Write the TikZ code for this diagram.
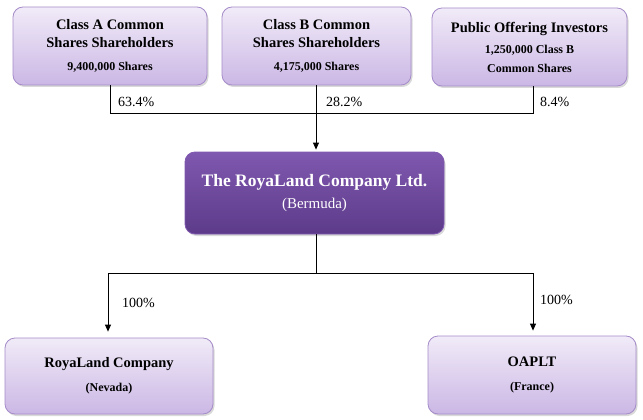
\documentclass[tikz,border=0pt]{standalone}
\usepackage{fontspec}
\setmainfont{Liberation Serif}
\usetikzlibrary{shadows,arrows.meta}
\definecolor{lavtop}{HTML}{F1EBF8}
\definecolor{lavbot}{HTML}{CBB7E5}
\definecolor{lavline}{HTML}{A58CC9}
\definecolor{purtop}{HTML}{7F58AF}
\definecolor{purbot}{HTML}{5D3B8A}
\newcommand{\sub}[1]{{\fontsize{12}{14}\selectfont #1}}
\begin{document}
\begin{tikzpicture}[x=1pt,y=-1pt,
  holder/.style={draw=lavline, line width=0.8pt, rounded corners=10pt,
    top color=lavtop, bottom color=lavbot, align=center, inner sep=0pt,
    font=\fontsize{14.5}{18}\selectfont\bfseries,
    drop shadow={shadow xshift=1.5pt, shadow yshift=-2pt, opacity=0.3}},
  parent/.style={holder, draw=purtop, top color=purtop, bottom color=purbot,
    text=white, font=\fontsize{17.5}{20}\selectfont},
  link/.style={line width=0.8pt},
  pct/.style={anchor=west, inner sep=0pt, font=\fontsize{14}{16}\selectfont}]
  \useasboundingbox (0,0) rectangle (643,420);
  \node[holder, minimum width=194pt, minimum height=78pt] (clsa) at (110,46)
    {Class A Common\\ Shares Shareholders\\[5pt] \sub{9,400,000 Shares}};
  \node[holder, minimum width=189pt, minimum height=78pt] (clsb) at (316.5,46)
    {Class B Common\\ Shares Shareholders\\[5pt] \sub{4,175,000 Shares}};
  \node[holder, minimum width=195pt, minimum height=78pt] (pub) at (529.5,47)
    {Public Offering Investors\\[3pt] \sub{1,250,000 Class B}\\[1pt] \sub{Common Shares}};
  \node[parent, minimum width=259pt, minimum height=82pt] (royal) at (314.5,193)
    {\bfseries The RoyaLand Company Ltd.\\[2pt] \fontsize{15}{18}\selectfont (Bermuda)};
  \node[holder, minimum width=208pt, minimum height=76pt] (nev) at (109,376)
    {RoyaLand Company\\[6pt] \sub{(Nevada)}};
  \node[holder, minimum width=208pt, minimum height=78pt] (fra) at (532,375)
    {OAPLT\\[6pt] \sub{(France)}};
  \coordinate (top) at (316,113);
  \coordinate (bot) at (316,273);
  \draw[link] (clsa.south) |- (top);
  \draw[link] (pub.south -| 533,0) |- (top);
  \draw[link] (clsb.south -| top) -- (top);
  \draw[link, -{Triangle[width=6pt,length=7pt]}, shorten >=2pt] (top) -- (royal.north -| top);
  \draw[link] (royal.south -| bot) -- (bot);
  \draw[link, -{Triangle[width=6pt,length=7pt]}, shorten >=6pt] (bot) -| (nev.north -| 108,0);
  \draw[link, -{Triangle[width=6pt,length=7pt]}, shorten >=5pt] (bot) -| (fra.north -| 533,0);
  \node[pct] at (118,102) {63.4\%};
  \node[pct] at (326,102) {28.2\%};
  \node[pct] at (540,102) {8.4\%};
  \node[pct] at (122,303) {100\%};
  \node[pct] at (540,300) {100\%};
\end{tikzpicture}
\end{document}
